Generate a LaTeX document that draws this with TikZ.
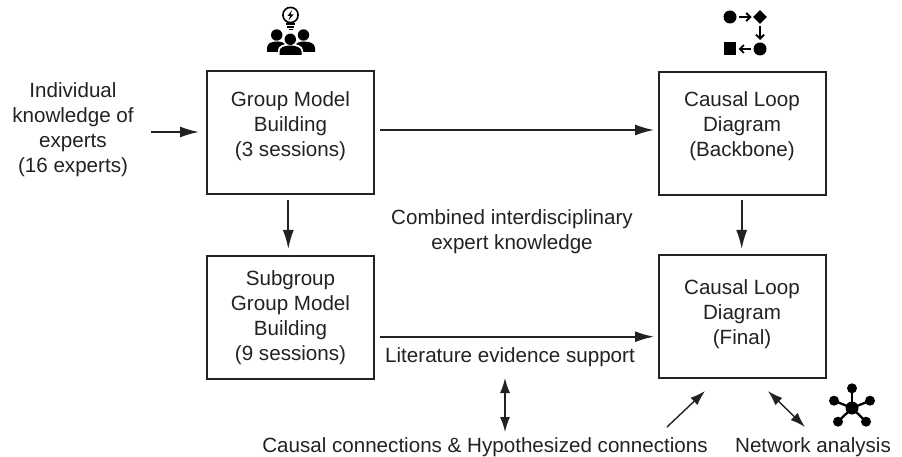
\documentclass[tikz,border=0pt]{standalone}
\usepackage{fontspec}
\setmainfont{Liberation Sans}
\usetikzlibrary{arrows.meta}
\definecolor{ink}{HTML}{222222}
\newcommand{\tailgap}[1]{\\[#1]\mbox{}}
\tikzset{
  x=1pt,y=-1pt,
  box/.style={draw=ink,line width=2pt,minimum width=167pt,minimum height=123pt,align=center,inner sep=0pt,text=ink,font=\fontsize{20.6}{25}\selectfont},
  lbl/.style={align=center,inner sep=0pt,text=ink,font=\fontsize{20.6}{25}\selectfont},
  conn/.style={draw=ink,line width=1.7pt,-{Latex[length=19pt,width=11pt]}},
  dconn/.style={draw=ink,line width=1.4pt,{Latex[length=15pt,width=10pt]}-{Latex[length=15pt,width=10pt]}},
  sconn/.style={draw=ink,line width=1.4pt,-{Latex[length=15pt,width=10pt]}}
}
\begin{document}
\begin{tikzpicture}
\useasboundingbox (0,0) rectangle (902,457);
\node[box] (gmb) at (290.5,132.5) {Group Model\\Building\\(3 sessions)\tailgap{-9pt}};
\node[box] (back) at (742,133.5) {Causal Loop\\Diagram\\(Backbone)\tailgap{-7pt}};
\node[box] (sub) at (290.5,317.5) {Subgroup\\Group Model\\Building\\(9 sessions)};
\node[box] (final) at (742,316) {Causal Loop\\Diagram\\(Final)\tailgap{-17pt}};
\node[lbl] (ind) at (73,130) {Individual\\knowledge of\\experts\\(16 experts)};
\node[lbl] (comb) at (512,231.5) {Combined interdisciplinary\\expert knowledge};
\node[lbl] (lit) at (510,357.5) {Literature evidence support};
\node[lbl] (cause) at (485,447) {Causal connections \& Hypothesized connections};
\node[lbl] (net) at (813,447) {Network analysis};

\coordinate (a1) at (151,132); \coordinate (a2) at (199,132);
\coordinate (b1) at (380,130); \coordinate (b2) at (654,130);
\coordinate (c1) at (288.3,200); \coordinate (c2) at (288.3,249);
\coordinate (d1) at (741.7,200); \coordinate (d2) at (741.7,249);
\coordinate (e1) at (380,336.7); \coordinate (e2) at (654,336.7);
\coordinate (f1) at (505,378); \coordinate (f2) at (505,432);
\coordinate (g1) at (667,427); \coordinate (g2) at (705,391);
\coordinate (h1) at (768,391); \coordinate (h2) at (805,427);
\draw[conn] (a1) -- (a2);
\draw[conn] (b1) -- (b2);
\draw[conn] (c1) -- (c2);
\draw[conn] (d1) -- (d2);
\draw[conn] (e1) -- (e2);
\draw[dconn] (f1) -- (f2);
\draw[sconn] (g1) -- (g2);
\draw[dconn] (h1) -- (h2);

% people + bulb icon
\begin{scope}[shift={(240,0)}]
  \draw[black,line width=1.6pt] (50.5,15) circle (7.6);
  \fill[black] (52,10) -- (47.5,16) -- (50,16) -- (48.5,20.5) -- (53.5,14.5) -- (50.5,14.5) -- cycle;
  \fill[black] (46,23.5) rectangle (55,25);
  \fill[black] (47,26.5) rectangle (54,28);
  \fill[black] (48.5,29) rectangle (52.5,30.5);
  \fill[black] (36.7,35) circle (5.7);
  \fill[black] (63.5,35) circle (5.7);
  \fill[black] (27,52) -- (27,48) .. controls (27,43) and (32,41.5) .. (37,41.5) .. controls (41,41.5) and (44,42.5) .. (45,44) -- (38,52) -- cycle;
  \fill[black] (75,52) -- (75,48) .. controls (75,43) and (69,41.5) .. (64,41.5) .. controls (60,41.5) and (57,42.5) .. (56,44) -- (63,52) -- cycle;
  \fill[white] (50.3,39.3) circle (7);
  \fill[white] (38,56) -- (38,50) .. controls (38,46) and (44,43.5) .. (50.3,43.5) .. controls (56,43.5) and (63,46) .. (63,50) -- (63,56) -- cycle;
  \fill[black] (50.3,39.3) circle (5.7);
  \fill[black] (39.5,55) -- (39.5,51.5) .. controls (39.5,47.5) and (44,45.5) .. (50.3,45.5) .. controls (56,45.5) and (61.5,47.5) .. (61.5,51.5) -- (61.5,55) -- cycle;
\end{scope}

% flow icon
\begin{scope}[shift={(700,0)}]
  \fill[black] (30,17) circle (6.5);
  \fill[black] (60,10.2) -- (66.8,17) -- (60,23.8) -- (53.2,17) -- cycle;
  \fill[black] (23.5,42.3) rectangle (36,55);
  \fill[black] (60,49) circle (6.5);
  \draw[black,line width=1.9pt,-{Straight Barb[length=4pt,width=8pt]}] (39,17) -- (51.5,17);
  \draw[black,line width=1.9pt,-{Straight Barb[length=4pt,width=8pt]}] (60,26) -- (60,40);
  \draw[black,line width=1.9pt,-{Straight Barb[length=4pt,width=8pt]}] (51,49) -- (38.5,49);
\end{scope}

% network icon
\begin{scope}[shift={(650,370)}]
  \fill[black] (202,38) circle (6.5);
  \foreach \ex/\ey in {202/18.3,184/30.7,220/30.7,188/51.7,216/51.7}{
    \draw[black,line width=2.3pt] (202,38) -- (\ex,\ey);
    \fill[black] (\ex,\ey) circle (5);
  }
\end{scope}
\end{tikzpicture}
\end{document}
